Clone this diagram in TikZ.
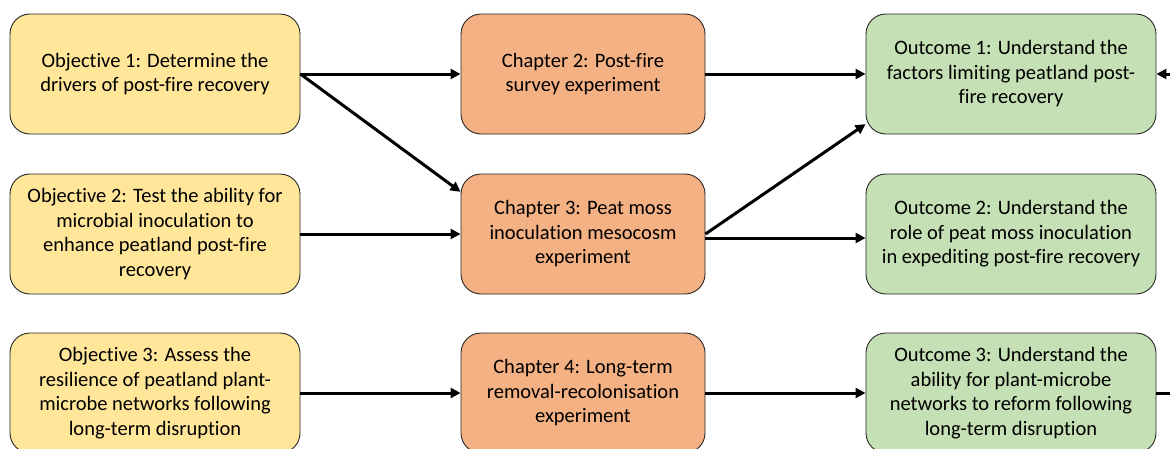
\documentclass[tikz,border=0pt]{standalone}
\usepackage{fontspec}
\setmainfont{Carlito}[Ligatures=NoCommon]
\usetikzlibrary{arrows.meta}
\definecolor{objfill}{RGB}{255,230,153}
\definecolor{chfill}{RGB}{244,177,131}
\definecolor{outfill}{RGB}{197,224,180}

\begin{document}
\begin{tikzpicture}[x=1pt,y=-1pt,
	box/.style={draw=black!85, line width=0.9pt, rounded corners=20pt, minimum width=290pt, minimum height=120pt, align=center, inner sep=0pt, font=\fontsize{20.5}{24.5}\selectfont},
	objbox/.style={box, fill=objfill},
	chbox/.style={box, fill=chfill, minimum width=244pt},
	outbox/.style={box, fill=outfill},
	link/.style={line width=3pt, -{Triangle[length=10pt,width=10pt]}}]
			%%%%% START %%%%%
			
			\useasboundingbox (0, 0) rectangle (1170, 448);
			
			\node[objbox] (obj1) at (155, 74) {Objective 1: Determine the\\drivers of post-fire recovery};
			\node[objbox] (obj2) at (155, 234) {Objective 2: Test the ability for\\microbial inoculation to\\enhance peatland post-fire\\recovery};
			\node[objbox] (obj3) at (155, 393) {Objective 3: Assess the\\resilience of peatland plant-\\microbe networks following\\long-term disruption};
			
			\node[chbox] (ch2) at (583, 74) {Chapter 2: Post-fire\\survey experiment};
			\node[chbox] (ch3) at (583, 234) {Chapter 3: Peat moss\\inoculation mesocosm\\experiment};
			\node[chbox] (ch4) at (583, 393) {Chapter 4: Long-term\\removal-recolonisation\\experiment};
			
			\node[outbox] (out1) at (1011, 74) {Outcome 1: Understand the\\factors limiting peatland post-\\fire recovery};
			\node[outbox] (out2) at (1011, 234) {Outcome 2: Understand the\\role of peat moss inoculation\\in expediting post-fire recovery};
			\node[outbox] (out3) at (1011, 393) {Outcome 3: Understand the\\ability for plant-microbe\\networks to reform following\\long-term disruption};
			
			\coordinate (in1) at (1175, 74);
			\coordinate (away3) at (1175, 393);
			
			\draw[link] (obj1.east) -- (ch2.west);
			\draw[link] (obj1.east) -- (ch3.161);
			\draw[link] (obj2.east) -- (ch3.west);
			\draw[link] (obj3.east) -- (ch4.west);
			
			\draw[link] (ch2.east) -- (out1.west);
			\draw[link] (ch3.east) -- (out1.199);
			\draw[link] ([yshift=-4pt]ch3.east) -- ([yshift=-4pt]out2.west);
			\draw[link] (ch4.east) -- (out3.west);
			
			\draw[link] (in1) -- (out1.east);
			\draw[line width=3pt] (out3.east) -- (away3);
			
			%%%%% END %%%%%
		\end{tikzpicture}
\end{document}
